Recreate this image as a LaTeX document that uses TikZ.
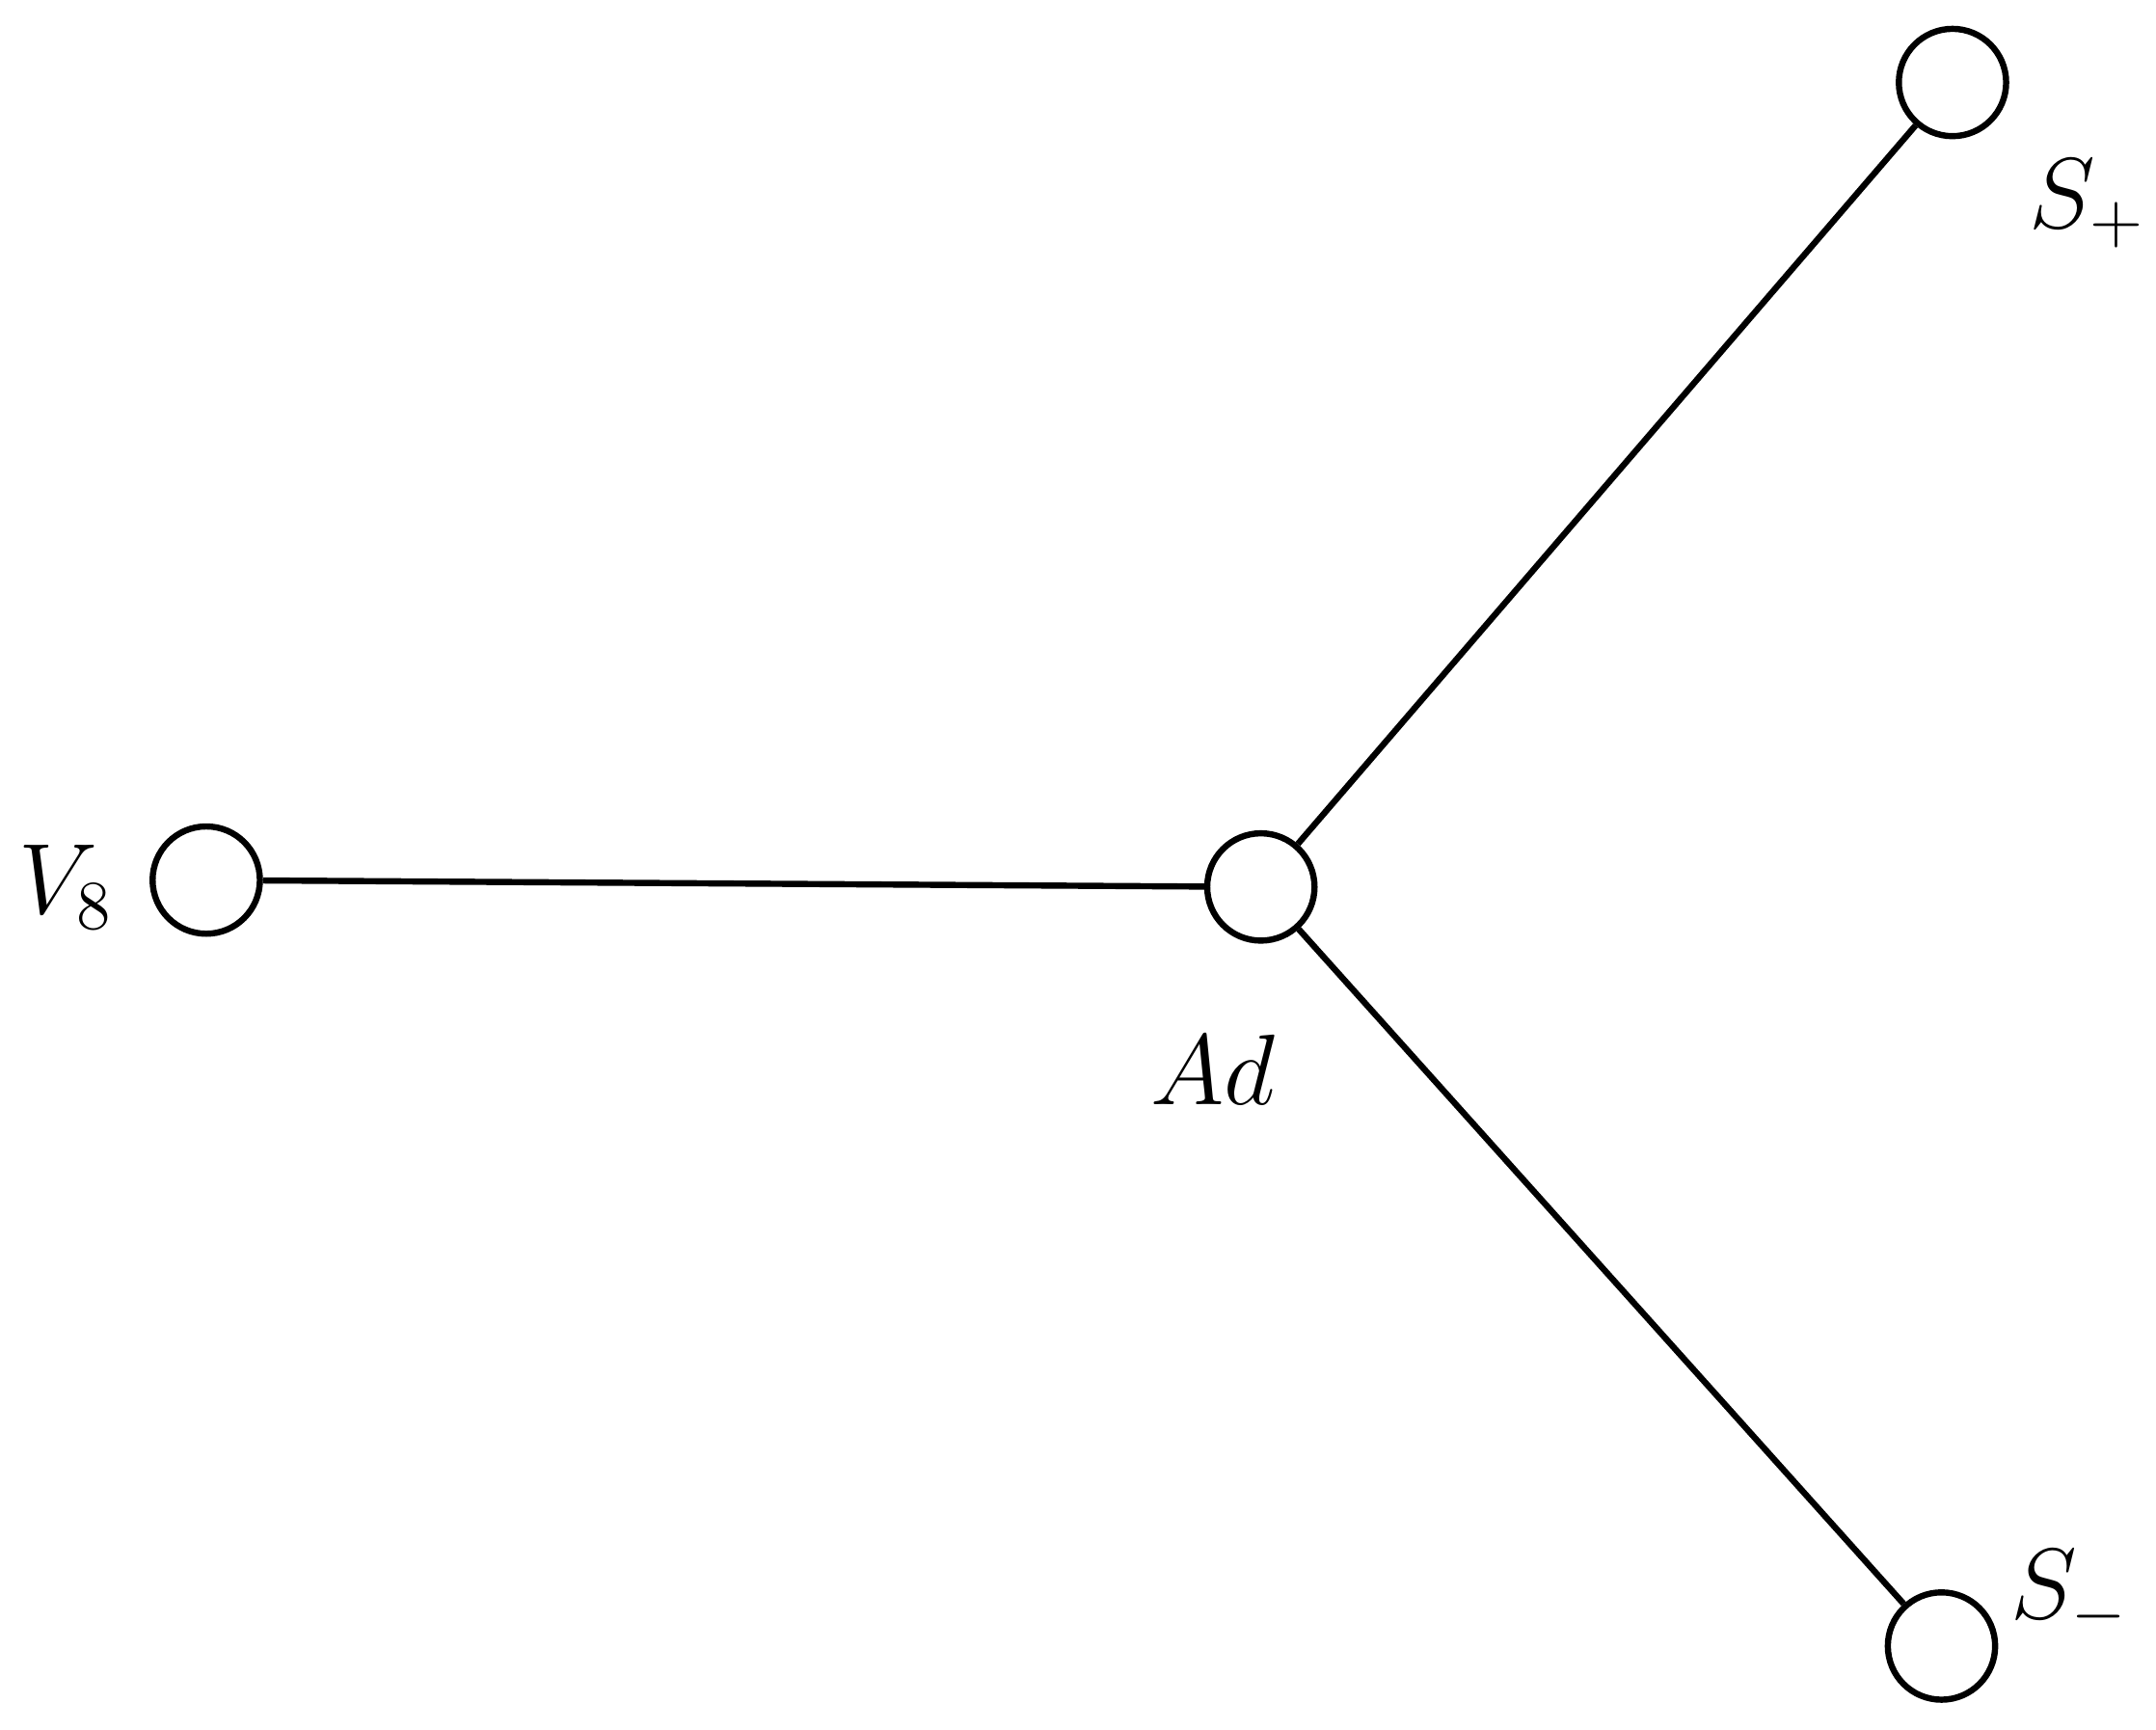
\documentclass[tikz,border=0pt]{standalone}
\begin{document}
\begin{tikzpicture}[x=0.01cm,y=-0.01cm,
  vert/.style={circle,draw,line width=0.045cm,minimum size=0.78cm,inner sep=0pt,fill=white},
  lab/.style={font=\fontsize{22}{26}\selectfont},
  edge/.style={line width=0.045cm}]
\useasboundingbox (0,0) rectangle (1568,1258);
\node[vert] (v) at (150,640) {};
\node[vert] (a) at (917,645) {};
\node[vert] (sp) at (1420,60) {};
\node[vert] (sm) at (1412,1197) {};
\draw[edge] (v) -- (a);
\draw[edge] (a) -- (sp);
\draw[edge] (a) -- (sm);
\node[lab] (lv) at (48,645) {$V_8$};
\node[lab] (la) at (882,778) {$Ad$};
\node[lab] (lsp) at (1518,148) {$S_+$};
\node[lab] (lsm) at (1505,1160) {$S_-$};
\end{tikzpicture}
\end{document}
